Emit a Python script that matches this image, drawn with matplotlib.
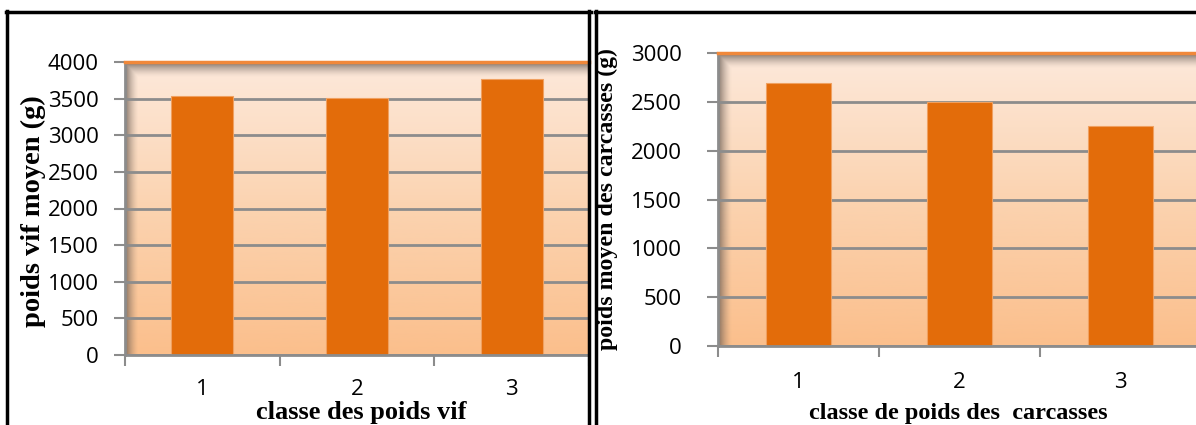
import numpy as np
import matplotlib
matplotlib.use("Agg")
import matplotlib.pyplot as plt
from matplotlib.colors import LinearSegmentedColormap
from matplotlib.lines import Line2D

# Data
classes = ["1", "2", "3"]
poids_vif = [3530, 3515, 3765]
poids_carcasses = [2690, 2495, 2250]
yticks_vif = [0, 500, 1000, 1500, 2000, 2500, 3000, 3500, 4000]
yticks_carc = [0, 500, 1000, 1500, 2000, 2500, 3000]

W, H = 1196, 425
DPI = 100
fig = plt.figure(figsize=(W / DPI, H / DPI), dpi=DPI)

BAR = "#e36c0a"
GRID = "#8c8c8c"
TICK_FONT = ["Open Sans", "DejaVu Sans"]
LABEL_FONT = ["Liberation Serif", "DejaVu Serif"]

bg_cmap = LinearSegmentedColormap.from_list("peach", ["#fde9db", "#fbd3b0", "#fbbf8c"])


def px_axes(x0, y0, x1, y1):
    """Axes from pixel box (x0, y0 top-left; x1, y1 bottom-right)."""
    return fig.add_axes([x0 / W, 1 - y1 / H, (x1 - x0) / W, (y1 - y0) / H])


def styled_panel(ax, values, yticks, ymax, xlabel, ylabel, pad_y, pad_x,
                 xlabel_pos, ylabel_pos, xlabel_size, ylabel_size):
    x = np.arange(1, len(values) + 1)
    ext = (0.5, len(values) + 0.5, 0, ymax)
    ax.set_xlim(0.5, len(values) + 0.5)
    ax.set_ylim(0, ymax)

    # gradient background, light at the top and deeper peach at the bottom
    grad = np.linspace(0, 1, 256).reshape(-1, 1)
    ax.imshow(grad, cmap=bg_cmap, aspect="auto", extent=ext, zorder=0,
              interpolation="bicubic")

    # inner shadow along top and left edges
    sh = np.zeros((200, 400, 4))
    yy = np.linspace(0, 1, 200).reshape(-1, 1)
    xx = np.linspace(0, 1, 400).reshape(1, -1)
    top = np.clip(1 - yy / 0.05, 0, 1) ** 1.5
    left = np.clip(1 - xx / 0.028, 0, 1) ** 1.5
    alpha = np.maximum(top * 0.8, left * 0.75)
    sh[..., 0] = 0.40
    sh[..., 1] = 0.35
    sh[..., 2] = 0.32
    sh[..., 3] = alpha
    ax.imshow(sh, aspect="auto", extent=ext, zorder=0.5, interpolation="bilinear")

    ax.set_yticks(yticks)
    ax.yaxis.grid(True, color=GRID, linewidth=2, zorder=1)
    ax.set_axisbelow(True)
    ax.bar(x, values, width=0.4, color=BAR, edgecolor="#f0a060", linewidth=0.8, zorder=3)

    # x ticks sit at the category boundaries, labels at the centres
    ax.set_xticks(np.arange(0.5, len(values) + 1.0, 1.0))
    ax.set_xticklabels([])
    ax.set_xticks(x, minor=True)
    ax.set_xticklabels(classes, minor=True)
    ax.tick_params(axis="x", which="minor", length=0, pad=pad_x, labelsize=16)
    ax.tick_params(axis="x", which="major", length=8, width=1.5, color=GRID)
    ax.tick_params(axis="y", length=8, width=1.5, color=GRID, pad=pad_y, labelsize=16)
    for lab in ax.get_xticklabels(minor=True) + ax.get_yticklabels():
        lab.set_family(TICK_FONT)

    for s in ["right", "bottom"]:
        ax.spines[s].set_visible(False)
    ax.spines["top"].set_color("#f0883a")
    ax.spines["top"].set_linewidth(2.5)
    ax.spines["top"].set_zorder(5)
    ax.spines["left"].set_color(GRID)
    ax.spines["left"].set_linewidth(2)
    ax.axhline(0, color=GRID, linewidth=2, zorder=4, clip_on=False)

    ax.set_xlabel(xlabel, family=LABEL_FONT, fontweight="bold", fontsize=xlabel_size,
                  va="center", ha="center")
    ax.xaxis.set_label_coords(*xlabel_pos)
    ax.set_ylabel(ylabel, family=LABEL_FONT, fontweight="bold", fontsize=ylabel_size,
                  va="center", ha="center")
    ax.yaxis.set_label_coords(*ylabel_pos)


ax1 = px_axes(125, 62, 589, 355)
styled_panel(ax1, poids_vif, yticks_vif, 4000, "classe des poids vif",
             "poids vif moyen (g)", pad_y=11, pad_x=17,
             xlabel_pos=(0.509, -0.197), ylabel_pos=(-0.198, 0.49),
             xlabel_size=19, ylabel_size=20.5)

ax2 = px_axes(718, 53, 1201, 346)
styled_panel(ax2, poids_carcasses, yticks_carc, 3000, "classe de poids des  carcasses",
             "poids moyen des carcasses (g)", pad_y=18, pad_x=19,
             xlabel_pos=(0.497, -0.229), ylabel_pos=(-0.228, 0.50),
             xlabel_size=17.5, ylabel_size=17.2)


# panel frames
def vline(xp, y0, y1, lw):
    fig.add_artist(Line2D([xp / W, xp / W], [1 - y0 / H, 1 - y1 / H], color="black",
                          linewidth=lw, transform=fig.transFigure))


def hline(yp, x0, x1, lw):
    fig.add_artist(Line2D([x0 / W, x1 / W], [1 - yp / H, 1 - yp / H], color="black",
                          linewidth=lw, transform=fig.transFigure))


vline(7, 11, 430, 2.5)
vline(589, 11, 430, 2.5)
hline(12, 5.5, 590.5, 2.5)
vline(596, 11, 430, 2.5)
hline(12, 594.5, 1200, 2.5)

fig.savefig("out.png", dpi=DPI)
